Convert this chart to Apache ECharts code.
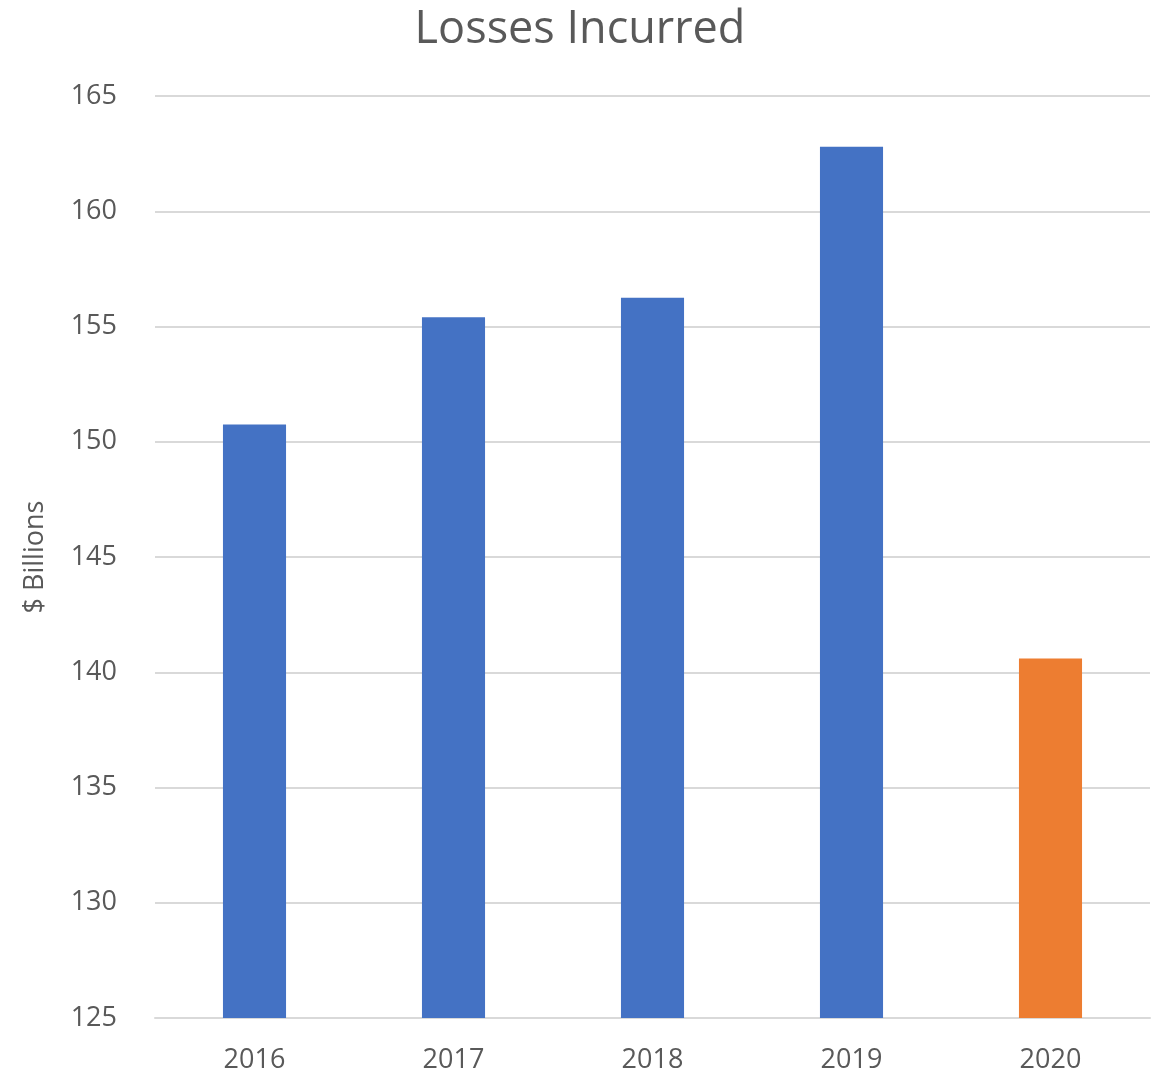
<!DOCTYPE html>
<html>
<head>
<meta charset="utf-8">
<script src="https://cdn.jsdelivr.net/npm/echarts@6/dist/echarts.min.js"></script>
<style>
  html, body { margin: 0; padding: 0; background: #fff; }
  #chart { width: 1160px; height: 1077px; }
</style>
</head>
<body>
<div id="chart"></div>
<script>
var years = ["2016", "2017", "2018", "2019", "2020"];
var losses = [150.75, 155.4, 156.25, 162.8, 140.6];
var barColors = ["#4472C4", "#4472C4", "#4472C4", "#4472C4", "#ED7D31"];

var font = "'Open Sans', 'Liberation Sans', sans-serif";
var chart = echarts.init(document.getElementById("chart"));
chart.setOption({
    animation: false,
    title: {
        text: "Losses Incurred",
        left: "center",
        top: 3,
        textStyle: {
            fontFamily: font,
            fontSize: 45,
            fontWeight: "normal",
            color: "#595959"
        }
    },
    grid: {
        left: 155,
        right: 10,
        top: 96,
        bottom: 59
    },
    xAxis: {
        type: "category",
        data: years,
        axisLine: { lineStyle: { color: "#D9D9D9", width: 2 } },
        axisTick: { show: false },
        axisLabel: {
            margin: 29,
            fontFamily: font,
            fontSize: 27,
            color: "#595959"
        }
    },
    yAxis: {
        type: "value",
        min: 125,
        max: 165,
        interval: 5,
        name: "$ Billions",
        nameLocation: "middle",
        nameGap: 106,
        nameTextStyle: {
            fontFamily: font,
            fontSize: 27,
            color: "#595959"
        },
        axisLine: { show: false },
        axisTick: { show: false },
        axisLabel: {
            margin: 38,
            fontFamily: font,
            fontSize: 27,
            color: "#595959"
        },
        splitLine: { lineStyle: { color: "#D9D9D9", width: 2 } }
    },
    series: [{
        type: "bar",
        barWidth: "31.7%",
        data: losses.map(function (v, i) {
            return { value: v, itemStyle: { color: barColors[i] } };
        })
    }]
});
</script>
</body>
</html>
